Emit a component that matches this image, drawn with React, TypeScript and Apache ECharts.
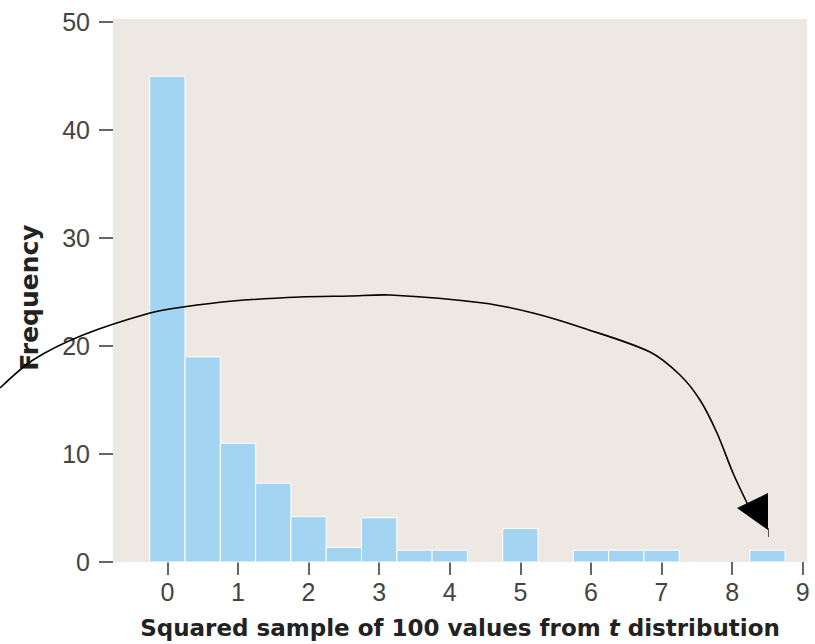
import React, { useEffect, useRef } from "react";
import * as echarts from "echarts";

// Histogram bins (centre of each bin) and their frequencies
const binCenters = [0, 0.5, 1, 1.5, 2, 2.5, 3, 3.5, 4, 5, 6, 6.5, 7, 8.5];
const frequencies = [45, 19, 11, 7.3, 4.2, 1.35, 4.1, 1.1, 1.1, 3.1, 1.1, 1.1, 1.1, 1.1];
const binWidth = 0.5;
const xTicks = [0, 1, 2, 3, 4, 5, 6, 7, 8, 9];
const yTicks = [0, 10, 20, 30, 40, 50];

const xTitle = "Squared sample of 100 values from {i|t} distribution";
const yTitle = "Frequency";

export default function App() {
  const ref = useRef<HTMLDivElement>(null);

  useEffect(() => {
    if (!ref.current) return;
    const chart = echarts.init(ref.current, null, { renderer: "svg" });
    const data = binCenters.map((c, i) => [c, frequencies[i]]);

    const option = {
      animation: false,
      backgroundColor: "#ffffff",
      grid: {
        left: 113,
        right: 8,
        top: 19,
        bottom: 82,
        show: true,
        backgroundColor: "#ede9e2",
        borderWidth: 0,
      },
      xAxis: {
        type: "value",
        min: -0.77,
        max: 9.06,
        splitLine: { show: false },
        axisLine: { show: false, onZero: false },
        axisTick: {
          show: true,
          customValues: xTicks,
          length: 13,
          lineStyle: { color: "#333", width: 1.5 },
        },
        axisLabel: {
          customValues: xTicks,
          margin: 17,
          fontSize: 25,
          color: "#444",
          fontFamily: "Liberation Sans",
        },
        name: xTitle,
        nameLocation: "middle",
        nameGap: 54,
        nameTextStyle: {
          fontFamily: "DejaVu Sans",
          fontWeight: "bold",
          fontSize: 23,
          color: "#222",
          rich: {
            i: {
              fontFamily: "DejaVu Sans",
              fontWeight: "bold",
              fontStyle: "italic",
              fontSize: 23,
              color: "#222",
            },
          },
        },
      },
      yAxis: {
        type: "value",
        min: 0,
        max: 50.3,
        splitLine: { show: false },
        axisLine: { show: false, onZero: false },
        axisTick: {
          show: true,
          customValues: yTicks,
          length: 14,
          lineStyle: { color: "#333", width: 1.5 },
        },
        axisLabel: {
          customValues: yTicks,
          margin: 23,
          fontSize: 25,
          color: "#444",
          fontFamily: "Liberation Sans",
        },
        name: yTitle,
        nameLocation: "middle",
        nameRotate: 90,
        nameGap: 71,
        nameTextStyle: {
          fontFamily: "DejaVu Sans",
          fontWeight: "bold",
          fontSize: 25,
          color: "#222",
          padding: [0, 14, 0, 0],
        },
      },
      series: [
        {
          type: "custom",
          data,
          renderItem: (params: any, api: any) => {
            const c = api.value(0);
            const v = api.value(1);
            const p0 = api.coord([c - binWidth / 2, v]);
            const p1 = api.coord([c + binWidth / 2, 0]);
            return {
              type: "rect",
              shape: { x: p0[0], y: p0[1], width: p1[0] - p0[0], height: p1[1] - p0[1] },
              style: { fill: "#a3d5f3", stroke: "#ffffff", lineWidth: 1 },
            };
          },
        },
      ],
      graphic: [
        {
          type: "polyline",
          silent: true,
          z: 100,
          shape: {
            points: [
              [0, 388], [33, 360], [83, 335], [150, 313], [183, 307], [233, 301],
              [300, 297], [350, 296], [390, 295], [483, 303], [533, 313], [583, 328],
              [650, 352], [680, 375], [700, 400], [717, 433], [733, 473], [748, 505],
            ],
            smooth: 0.3,
          },
          style: { stroke: "#000", lineWidth: 1.6, fill: null },
        },
        {
          type: "polygon",
          silent: true,
          z: 101,
          shape: { points: [[737, 508], [768, 493], [768, 530]] },
          style: { fill: "#000" },
        },
        {
          type: "line",
          silent: true,
          z: 101,
          shape: { x1: 768.5, y1: 528, x2: 768.5, y2: 537 },
          style: { stroke: "#555", lineWidth: 1 },
        },
      ],
    };
    chart.setOption(option as any);
    return () => chart.dispose();
  }, []);

  return (
    <div
      ref={ref}
      style={{ position: "fixed", left: 0, top: 0, width: 815, height: 644 }}
    />
  );
}
